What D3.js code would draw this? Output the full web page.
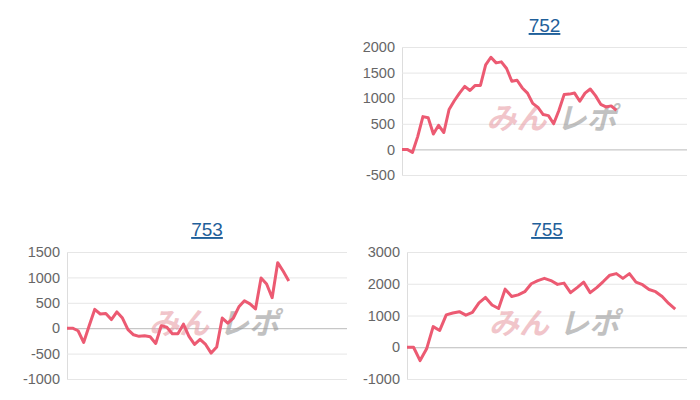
<!DOCTYPE html><html><head><meta charset="utf-8"><script src="https://cdn.jsdelivr.net/npm/d3@7"></script>
<style>body{margin:0;background:#fff;font-family:"Liberation Sans",Arial,sans-serif}</style></head><body><svg id="c" width="700" height="400"></svg><script>
const titles=["752","753","755"];
const values752=[0,0,-60,250,640,620,300,470,330,780,950,1100,1230,1150,1250,1250,1650,1800,1690,1710,1580,1330,1350,1200,1100,900,820,680,660,500,760,1070,1080,1100,940,1100,1180,1050,880,830,850,760];
const values753=[0,0,-50,-280,50,370,280,290,170,320,200,-30,-130,-160,-150,-170,-300,50,20,-110,-110,80,-160,-320,-220,-320,-490,-370,200,100,200,420,540,480,380,990,870,600,1290,1120,930];
const values755=[0,0,-420,-50,650,530,1020,1080,1120,1010,1100,1400,1570,1330,1220,1830,1600,1650,1750,2000,2100,2170,2100,1980,2020,1720,1880,2050,1720,1880,2070,2270,2320,2170,2320,2050,1970,1820,1750,1600,1380,1200];
const ticks752=[-500,0,500,1000,1500,2000];
const ticks753=[-1000,-500,0,500,1000,1500];
const ticks755=[-1000,0,1000,2000,3000];
const series=[values752,values753,values755];
const tickSets=[ticks752,ticks753,ticks755];
const slots=[54.5,50.5,42.8];
const boxes=[{l:402,r:687,t:47,b:175,ty:25},{l:67,r:347,t:252,b:379,ty:229},{l:407,r:687,t:252,b:379,ty:229}];
const svg=d3.select("#c");
series.forEach((vals,i)=>{
 const bx=boxes[i],tk=tickSets[i];
 const x=d3.scaleLinear().domain([0,slots[i]]).range([bx.l,bx.r]);
 const y=d3.scaleLinear().domain([tk[0],tk[tk.length-1]]).range([bx.b,bx.t]);
 const g=svg.append("g");
 g.append("text").attr("x",(bx.l+bx.r)/2).attr("y",bx.ty+7).attr("text-anchor","middle").attr("font-size",19).attr("fill","#1f5f9a").attr("text-decoration","underline").text(titles[i]);
 const ax=g.append("g").attr("transform",`translate(${bx.l},0)`).call(d3.axisLeft(y).tickValues(tk).tickSize(-(bx.r-bx.l)).tickPadding(7).tickFormat(d=>String(d)));
 ax.select(".domain").attr("stroke","#ddd");
 ax.selectAll(".tick line").attr("stroke",d=>d===0?"#bbb":"#e6e6e6");
 ax.selectAll(".tick text").attr("fill","#666").attr("font-size",14.5).attr("font-family","Liberation Sans, Arial");
 const cx=(bx.l+bx.r)/2+10,cy=(bx.t+bx.b)/2+18;
 g.append("text").attr("x",cx-8).attr("y",cy).attr("text-anchor","end").attr("font-size",30).attr("font-weight","bold").attr("font-style","italic").attr("fill","#e8a0a8").attr("opacity",0.6).attr("font-family","Noto Sans CJK JP").text("みん");
 g.append("text").attr("x",cx+2).attr("y",cy).attr("text-anchor","start").attr("font-size",30).attr("font-weight","bold").attr("font-style","italic").attr("fill","#999").attr("opacity",0.6).attr("font-family","Noto Sans CJK JP").text("レポ");
 g.append("path").datum(vals).attr("fill","none").attr("stroke","#ec5a72").attr("stroke-width",3).attr("stroke-linejoin","round")
  .attr("d",d3.line().x((d,j)=>x(j)).y(d=>y(d)));
});
</script></body></html>
